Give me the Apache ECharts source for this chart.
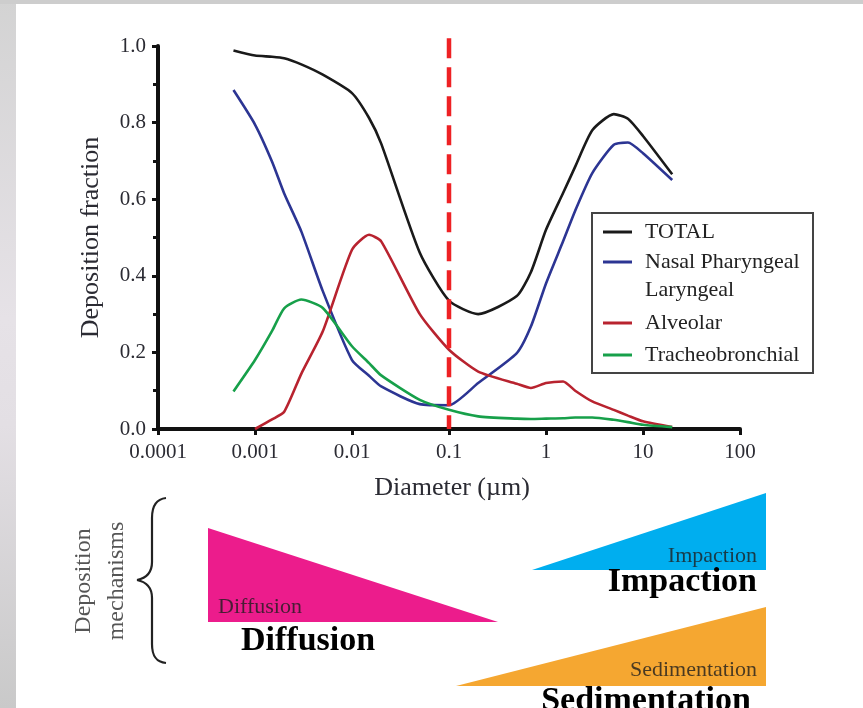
<!DOCTYPE html>
<html>
<head>
<meta charset="utf-8">
<style>
  html, body { margin: 0; padding: 0; background: #fff; }
  #chart { width: 863px; height: 708px; }
</style>
<script src="https://cdn.jsdelivr.net/npm/echarts@6/dist/echarts.min.js"></script>
</head>
<body>
<div id="chart"></div>
<script>
// particle diameter (um) and deposition fraction per region
const diameters = [0.0006, 0.001, 0.0015, 0.002, 0.003, 0.005, 0.01, 0.015, 0.02, 0.05, 0.1, 0.2, 0.5, 0.7, 1, 1.5, 2, 3, 5, 7, 10, 20];
const total = [0.988, 0.975, 0.972, 0.968, 0.952, 0.925, 0.877, 0.812, 0.745, 0.46, 0.335, 0.30, 0.347, 0.41, 0.52, 0.616, 0.685, 0.78, 0.822, 0.81, 0.765, 0.665];
const nasal = [0.885, 0.795, 0.698, 0.615, 0.516, 0.36, 0.18, 0.139, 0.111, 0.065, 0.062, 0.12, 0.198, 0.268, 0.38, 0.49, 0.57, 0.668, 0.742, 0.748, 0.72, 0.65];
const alveolar = [null, 0.0, 0.025, 0.045, 0.144, 0.255, 0.468, 0.507, 0.49, 0.30, 0.207, 0.15, 0.118, 0.107, 0.12, 0.124, 0.10, 0.072, 0.05, 0.035, 0.02, 0.005];
const tracheo = [0.098, 0.18, 0.256, 0.315, 0.338, 0.316, 0.216, 0.172, 0.14, 0.076, 0.05, 0.033, 0.027, 0.026, 0.027, 0.028, 0.03, 0.03, 0.024, 0.018, 0.011, 0.005];

const seriesNames = ['TOTAL', 'Nasal Pharyngeal Laryngeal', 'Alveolar', 'Tracheobronchial'];
const xTickLabels = ['0.0001', '0.001', '0.01', '0.1', '1', '10', '100'];
const yTickLabels = ['0.0', '0.2', '0.4', '0.6', '0.8', '1.0'];
const cutoff = [[0.1, 1.02]]; // red dashed reference diameter

const SERIF = '"Liberation Serif", "Times New Roman", serif';
const colors = ['#1a1a1a', '#2c3593', '#b8232f', '#17a04a'];

const pairs = vals => diameters.map((d, i) => [d, vals[i]]);

const chart = echarts.init(document.getElementById('chart'));

// legend centres (px) for each entry
const legendCenters = [232, 262, 323, 355];
const legends = seriesNames.map((name, i) => {
  const twoLine = i === 1;
  const lg = {
    data: [name],
    orient: 'vertical',
    left: 603,
    top: legendCenters[i] - (twoLine ? 42 : 14),
    padding: 0,
    icon: 'rect',
    itemWidth: 29,
    itemHeight: 3,
    selectedMode: false,
    textStyle: {
      fontFamily: SERIF, fontSize: 22, color: '#222', lineHeight: 28,
      padding: [0, 0, 0, 8]
    }
  };
  // blank first line keeps the icon level with "Nasal Pharyngeal"
  if (twoLine) lg.formatter = () => ' \nNasal Pharyngeal\nLaryngeal';
  return lg;
});

const smallText = { fontFamily: SERIF, fontSize: 22, fill: '#1e1e1e', opacity: 0.8 };
const bigText = { fontFamily: SERIF, fontSize: 34, fontWeight: 'bold', fill: '#000' };
const braceStyle = { fill: 'none', stroke: '#222', lineWidth: 2.2 };

chart.setOption({
  animation: false,
  backgroundColor: '#fff',
  grid: { left: 158, right: 123, top: 46, bottom: 279 },
  legend: legends,
  xAxis: {
    type: 'log',
    logBase: 10,
    min: 0.0001,
    max: 100,
    name: 'Diameter (\u00b5m)',
    nameLocation: 'middle',
    nameGap: 46,
    nameTextStyle: { fontFamily: SERIF, fontSize: 26, color: '#2b2b33', padding: [0, 0, 0, 6] },
    axisLine: { show: true, lineStyle: { color: '#111', width: 4 } },
    axisTick: { show: true, length: 6, lineStyle: { color: '#111', width: 3 } },
    minorTick: { show: false },
    splitLine: { show: false },
    axisLabel: {
      margin: 13,
      fontFamily: SERIF, fontSize: 21, color: '#2b2b33',
      formatter: v => xTickLabels[Math.round(Math.log10(v)) + 4]
    }
  },
  yAxis: {
    type: 'value',
    min: 0,
    max: 1,
    interval: 0.2,
    name: 'Deposition fraction',
    nameLocation: 'middle',
    nameRotate: 90,
    nameGap: 54,
    nameTextStyle: { fontFamily: SERIF, fontSize: 26, color: '#2b2b33' },
    axisLine: { show: true, lineStyle: { color: '#111', width: 4 } },
    axisTick: { show: true, length: 6, lineStyle: { color: '#111', width: 3 } },
    minorTick: { show: true, splitNumber: 2, length: 5, lineStyle: { color: '#111', width: 3 } },
    splitLine: { show: false },
    axisLabel: {
      margin: 12,
      fontFamily: SERIF, fontSize: 21, color: '#2b2b33',
      formatter: v => yTickLabels[Math.round(v * 5)]
    }
  },
  series: [
    ...[total, nasal, alveolar, tracheo].map((vals, i) => ({
      name: seriesNames[i],
      type: 'line',
      data: pairs(vals),
      smooth: 0.2,
      showSymbol: false,
      color: colors[i],
      lineStyle: { width: 2.6, color: colors[i] },
      z: 2
    })),
    {
      type: 'custom',
      data: cutoff,
      z: 3,
      renderItem: (params, api) => {
        const top = api.coord([api.value(0), api.value(1)]);
        const bottom = api.coord([api.value(0), 0]);
        return {
          type: 'line',
          shape: { x1: top[0], y1: top[1], x2: bottom[0], y2: bottom[1] },
          style: { stroke: '#ee2124', lineWidth: 4.5, lineDash: [20, 9] }
        };
      }
    }
  ],
  graphic: [
    // page frame
    {
      type: 'rect', z: -10, shape: { x: 0, y: 0, width: 16, height: 708 },
      style: {
        fill: new echarts.graphic.LinearGradient(0, 0, 0, 1, [
          { offset: 0, color: '#d3d3d3' },
          { offset: 0.45, color: '#e6e2e7' },
          { offset: 0.6, color: '#e3dfe4' },
          { offset: 1, color: '#c9c9c9' }
        ])
      }
    },
    { type: 'rect', z: -10, shape: { x: 0, y: 0, width: 863, height: 4 }, style: { fill: '#cdcdcd' } },
    // legend frame
    {
      type: 'rect', z: 3, shape: { x: 592, y: 213, width: 221, height: 160 },
      style: { fill: '#fff', stroke: '#444', lineWidth: 2 }
    },
    // mechanisms panel
    {
      type: 'text', x: 100, y: 581, rotation: Math.PI / 2,
      style: {
        text: 'Deposition\nmechanisms', fontFamily: SERIF, fontSize: 24, lineHeight: 33,
        fill: '#555', align: 'center', verticalAlign: 'middle'
      }
    },
    { type: 'bezierCurve', shape: { x1: 166, y1: 498, cpx1: 156, cpy1: 499, cpx2: 152, cpy2: 506, x2: 152, y2: 518 }, style: braceStyle },
    { type: 'line', shape: { x1: 152, y1: 518, x2: 152, y2: 562 }, style: braceStyle },
    { type: 'bezierCurve', shape: { x1: 152, y1: 562, cpx1: 152, cpy1: 572, cpx2: 147, cpy2: 578, x2: 137, y2: 580 }, style: braceStyle },
    { type: 'bezierCurve', shape: { x1: 137, y1: 580, cpx1: 147, cpy1: 582, cpx2: 152, cpy2: 588, x2: 152, y2: 598 }, style: braceStyle },
    { type: 'line', shape: { x1: 152, y1: 598, x2: 152, y2: 644 }, style: braceStyle },
    { type: 'bezierCurve', shape: { x1: 152, y1: 644, cpx1: 152, cpy1: 656, cpx2: 156, cpy2: 662, x2: 166, y2: 663 }, style: braceStyle },
    { type: 'polygon', shape: { points: [[208, 528], [208, 622], [498, 622]] }, style: { fill: '#ec1c8c' } },
    { type: 'polygon', shape: { points: [[532, 570], [766, 570], [766, 493]] }, style: { fill: '#00aeef' } },
    { type: 'polygon', shape: { points: [[456, 686], [766, 686], [766, 607]] }, style: { fill: '#f5a731' } },
    { type: 'text', x: 218, y: 607, style: Object.assign({ text: 'Diffusion', align: 'left', verticalAlign: 'middle' }, smallText) },
    { type: 'text', x: 757, y: 556, style: Object.assign({ text: 'Impaction', align: 'right', verticalAlign: 'middle' }, smallText) },
    { type: 'text', x: 757, y: 670, style: Object.assign({ text: 'Sedimentation', align: 'right', verticalAlign: 'middle' }, smallText) },
    { type: 'text', x: 241, y: 641, style: Object.assign({ text: 'Diffusion', align: 'left', verticalAlign: 'middle' }, bigText) },
    { type: 'text', x: 757, y: 582, style: Object.assign({ text: 'Impaction', align: 'right', verticalAlign: 'middle' }, bigText) },
    { type: 'text', x: 646, y: 701, style: Object.assign({ text: 'Sedimentation', align: 'center', verticalAlign: 'middle' }, bigText) }
  ]
});
</script>
</body>
</html>
